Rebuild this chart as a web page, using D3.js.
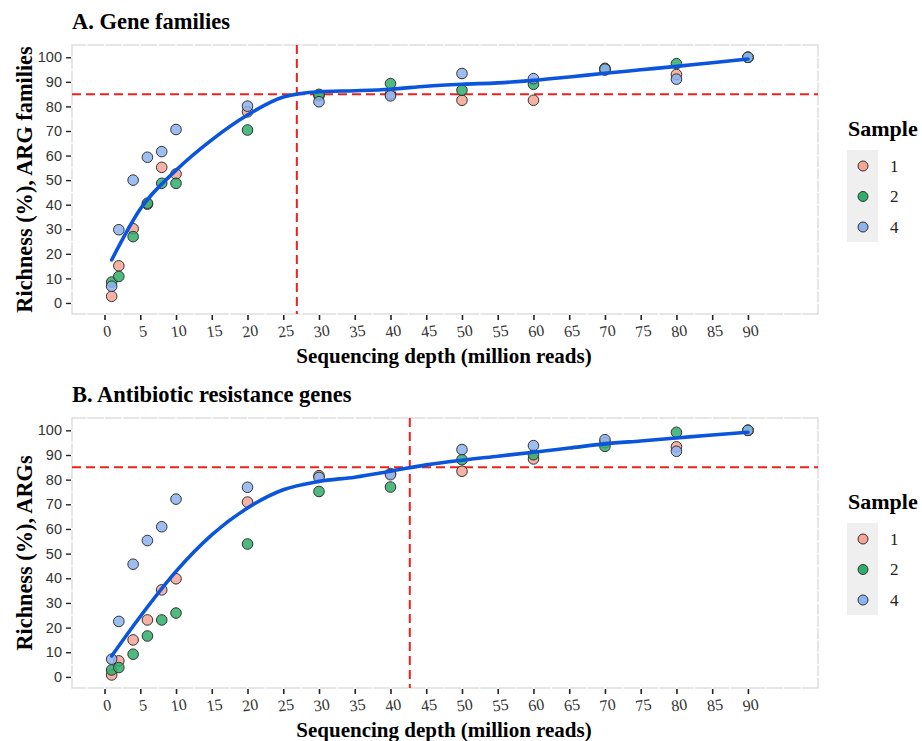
<!DOCTYPE html>
<html>
<head>
<meta charset="utf-8">
<script src="https://cdn.jsdelivr.net/npm/d3@7"></script>
<style>
  body { margin: 0; background: #fff; }
  svg { display: block; }
</style>
</head>
<body>
<script>
// sequencing depths (million reads) where the samples were subsampled
var depths = [1, 2, 4, 6, 8, 10, 20, 30, 40, 50, 60, 70, 80, 90];
var samples = ['1', '2', '4'];
var sampleColors = ['#f6a497', '#2fae6a', '#8db3f0'];

// panel A: richness (%) of ARG families per sample
var familiesS1 = [2.7, 15.1, 30.2, 40.2, 55.2, 52.5, 77.8, 84.3, 85.0, 82.5, 82.5, 94.8, 93.0, 100];
var familiesS2 = [8.5, 10.8, 27.0, 40.6, 48.7, 48.7, 70.4, 84.9, 89.3, 86.6, 89.0, 95.5, 97.4, 100];
var familiesS4 = [6.8, 29.8, 50.0, 59.3, 61.6, 70.6, 80.1, 81.9, 84.3, 93.4, 91.3, 95.2, 91.1, 100];

// panel B: richness (%) of ARGs per sample
var genesS1 = [0.8, 6.5, 15.0, 23.1, 35.3, 39.8, 70.9, 81.6, 82.5, 83.4, 88.4, 95.0, 93.3, 100];
var genesS2 = [2.8, 3.8, 9.2, 16.6, 23.1, 25.9, 53.9, 75.2, 77.0, 88.1, 90.1, 93.5, 99.2, 100];
var genesS4 = [7.2, 22.5, 45.7, 55.3, 60.9, 72.1, 76.9, 80.9, 82.0, 92.2, 93.8, 96.2, 91.5, 100];

// smoothed fit
var curveDepths = [1, 5, 10, 15, 20, 25, 30, 35, 40, 45, 50, 55, 60, 65, 70, 75, 80, 85, 90];
var familiesCurve = [17.5, 38.2, 54.0, 66.4, 76.5, 83.8, 86.0, 86.4, 87.0, 88.2, 89.0, 89.6, 90.6, 92.0, 93.5, 94.9, 96.3, 97.8, 99.3];
var genesCurve = [8.5, 24.5, 42.8, 57.6, 68.5, 75.9, 79.3, 81.0, 83.4, 86.0, 87.9, 89.5, 91.1, 92.8, 94.5, 95.7, 96.9, 98.1, 99.2];

// cut-offs (dashed red lines)
var threshold = 85;
var familiesCutoff = 26.9;
var genesCutoff = 42.7;

var xTicks = [0, 5, 10, 15, 20, 25, 30, 35, 40, 45, 50, 55, 60, 65, 70, 75, 80, 85, 90];
var yTicks = [0, 10, 20, 30, 40, 50, 60, 70, 80, 90, 100];

var width = 922, height = 741;
var svg = d3.select('body').append('svg')
    .attr('width', width)
    .attr('height', height);

var serif = "'Liberation Serif', 'Times New Roman', serif";
var sans = "'Liberation Sans', Arial, sans-serif";

function drawPanel(cfg) {
  var x = d3.scaleLinear().domain([-4.55, 99.8]).range([72, 818]);
  var y = d3.scaleLinear().domain([-4.5, 105]).range([cfg.bottom, cfg.top]);
  var g = svg.append('g');

  // panel title
  g.append('text')
      .attr('x', 72)
      .attr('y', cfg.top - 16)
      .style('font-family', serif)
      .style('font-weight', 'bold')
      .style('font-size', '22.5px')
      .text(cfg.title);

  // light border, broken by the (white) grid lines
  g.append('rect')
      .attr('x', x.range()[0])
      .attr('y', cfg.top)
      .attr('width', x.range()[1] - x.range()[0])
      .attr('height', cfg.bottom - cfg.top)
      .attr('fill', '#fff')
      .attr('stroke', '#d6d6d6')
      .attr('stroke-width', 1.2);

  var gridX = d3.range(-2.5, 100, 2.5);
  var gridY = d3.range(0, 105, 5);
  g.selectAll('.gx').data(gridX).enter().append('line')
      .attr('x1', function(d) { return x(d); })
      .attr('x2', function(d) { return x(d); })
      .attr('y1', cfg.top - 2).attr('y2', cfg.bottom + 2)
      .attr('stroke', '#fff').attr('stroke-width', 1.2);
  g.selectAll('.gy').data(gridY).enter().append('line')
      .attr('y1', function(d) { return y(d); })
      .attr('y2', function(d) { return y(d); })
      .attr('x1', x.range()[0] - 2).attr('x2', x.range()[1] + 2)
      .attr('stroke', '#fff').attr('stroke-width', 1.2);

  // x axis
  var xAxis = g.append('g')
      .attr('transform', 'translate(0,' + (cfg.bottom + 1) + ')')
      .call(d3.axisBottom(x).tickValues(xTicks).tickSize(5).tickSizeOuter(0));
  xAxis.select('.domain').remove();
  xAxis.selectAll('.tick line').attr('stroke', '#222').attr('stroke-width', 1.6);
  xAxis.selectAll('.tick text')
      .attr('y', 16)
      .attr('dy', '0.35em')
      .attr('transform', 'rotate(-8)')
      .style('font-family', serif)
      .style('font-size', '16px')
      .attr('fill', '#333');

  // y axis
  var yAxis = g.append('g')
      .attr('transform', 'translate(' + (x.range()[0] - 1) + ',0)')
      .call(d3.axisLeft(y).tickValues(yTicks).tickSize(5).tickSizeOuter(0));
  yAxis.select('.domain').remove();
  yAxis.selectAll('.tick line').attr('stroke', '#222').attr('stroke-width', 1.4);
  yAxis.selectAll('.tick text')
      .attr('x', -9)
      .style('font-family', sans)
      .style('font-size', '14.5px')
      .attr('fill', '#333');

  // axis titles
  g.append('text')
      .attr('x', 444)
      .attr('y', cfg.bottom + 49)
      .style('text-anchor', 'middle')
      .style('font-family', serif)
      .style('font-weight', 'bold')
      .style('font-size', '21px')
      .text('Sequencing depth (million reads)');
  g.append('text')
      .attr('transform', 'translate(32,' + ((cfg.top + cfg.bottom) / 2) + ') rotate(-90)')
      .style('text-anchor', 'middle')
      .style('font-family', serif)
      .style('font-weight', 'bold')
      .style('font-size', '22.3px')
      .text(cfg.yLabel);

  // dashed cut-off lines
  g.append('line')
      .attr('x1', x.range()[0]).attr('x2', x.range()[1])
      .attr('y1', y(threshold)).attr('y2', y(threshold))
      .attr('stroke', '#f0201c').attr('stroke-width', 2)
      .attr('stroke-dasharray', '9,5');
  g.append('line')
      .attr('x1', x(cfg.cutoff)).attr('x2', x(cfg.cutoff))
      .attr('y1', cfg.top).attr('y2', cfg.bottom)
      .attr('stroke', '#f0201c').attr('stroke-width', 2)
      .attr('stroke-dasharray', '9,5');

  // points, one layer per sample
  cfg.series.forEach(function(values, i) {
    g.append('g').selectAll('circle')
        .data(values)
        .enter()
      .append('circle')
        .attr('cx', function(d, j) { return x(depths[j]); })
        .attr('cy', function(d) { return y(d); })
        .attr('r', 5.3)
        .attr('fill', sampleColors[i])
        .attr('fill-opacity', 0.85)
        .attr('stroke', '#333')
        .attr('stroke-width', 1);
  });

  // smoothed curve
  var line = d3.line()
      .x(function(d, j) { return x(curveDepths[j]); })
      .y(function(d) { return y(d); })
      .curve(d3.curveMonotoneX);
  g.append('path')
      .datum(cfg.curve)
      .attr('d', line)
      .attr('fill', 'none')
      .attr('stroke', '#0a55dc')
      .attr('stroke-width', 3.6)
      .attr('stroke-linecap', 'round');

  // legend
  var lg = g.append('g').attr('transform', 'translate(847,' + cfg.legendTop + ')');
  lg.append('text')
      .attr('x', 1)
      .attr('y', -14)
      .style('font-family', serif)
      .style('font-weight', 'bold')
      .style('font-size', '22px')
      .text('Sample');
  lg.append('rect')
      .attr('x', 0).attr('y', 0)
      .attr('width', 31).attr('height', 92)
      .attr('fill', '#efefef');
  samples.forEach(function(s, i) {
    lg.append('circle')
        .attr('cx', 16).attr('cy', 16 + i * 30.5)
        .attr('r', 5)
        .attr('fill', sampleColors[i])
        .attr('stroke', '#333')
        .attr('stroke-width', 1);
    lg.append('text')
        .attr('x', 43).attr('y', 16 + i * 30.5)
        .attr('dy', '0.35em')
        .style('font-family', serif)
        .style('font-size', '17px')
        .attr('fill', '#222')
        .text(s);
  });
}

drawPanel({
  title: 'A. Gene families',
  yLabel: 'Richness (%), ARG families',
  top: 45, bottom: 314,
  cutoff: familiesCutoff,
  series: [familiesS1, familiesS2, familiesS4],
  curve: familiesCurve,
  legendTop: 150
});

drawPanel({
  title: 'B. Antibiotic resistance genes',
  yLabel: 'Richness (%), ARGs',
  top: 418, bottom: 688,
  cutoff: genesCutoff,
  series: [genesS1, genesS2, genesS4],
  curve: genesCurve,
  legendTop: 523
});
</script>
</body>
</html>
